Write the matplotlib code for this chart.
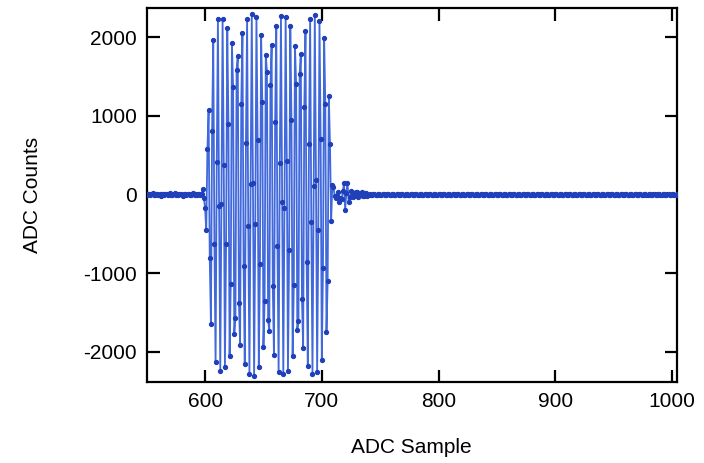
import numpy as np
import matplotlib.pyplot as plt

plt.rcParams['font.family'] = ['Liberation Sans', 'DejaVu Sans']
plt.rcParams['axes.unicode_minus'] = False

# ADC record, one value per sample, starting at sample 550
first_sample = 550

pre_trigger = [-10, 5, 12, -8, 3, 15, -5, -12, 8, 10,
               -3, 6, -15, 4, 11, -7, 2, 9, -11, 5,
               13, -4, -9, 7, 14, -6, 3, -10, 8, 12,
               -2, -13, 6, 10, -5, 4, 11, -8, -3, 9,
               15, -7, 2, -12, 8, 5, -9, 12, 75, -40]

burst = [-174, -455, 576, 1078, -814, -1645, 810, 1966, -636, -2136,
         410, 2232, -149, -2250, -115, 2237, 376, -2194, -632, 2120,
         899, -2061, -1141, 1927, 1364, -1769, -1571, 1585, 1757, -1380,
         -1918, 1155, 2054, -915, -2160, 662, 2238, -403, -2284, 133,
         2300, 150, -2310, -380, 2260, 700, -2190, -890, 2030, 1180,
         -1940, -1350, 1780, 1560, -1600, -1740, 1390, 1900, -1170, -2040,
         920, 2150, -660, -2260, 400, 2270, -100, -2290, -170, 2265,
         430, -2250, -700, 2140, 950, -2060, -1150, 1890, 1410, -1720,
         -1610, 1540, 1790, -1330, -1950, 1110, 2080, -860, -2180, 640,
         2240, -350, -2280, 110, 2290, 185, -2260, -450, 2210, 710,
         -2100, -930, 1990, 1150]

ringdown = [-1750, -1100, 1250, 640, -340, 115, 100, -20, -40, -25,
            30, -90, -40, -60, 40, 143, -197, 20, 150, -91,
            -30, 45, 30, -35, -25, 30, 28, -30, -22, 25,
            26, -22, -18, 20, 18, -16, -12]

noise_tail = [8, -6, -10, 9, 7, -5, -11, 6, 10, -4, -8, 7, 5, -9, -6, 11, 4, -7, -3, 8, 9, -10,
              -5, 6, 12, -3, -9, 5, 7, -11, -2, 10, 6, -8, -4, 9, 3, -12, -6, 7, 11, -2, -7, 4,
              10, -6, -9, 3, 8, -4, -10, 12, 5, -7, -3, 9, 6, -11, -5, 8, 2, -9, -6, 10, 7, -3,
              -12, 5, 9, -8, -2, 11, 4, -6, -10, 7, 3, -5, -9, 12, 6, -4, -8, 10, 2, -7, -11, 5,
              8, -3, -6, 11, 5, -9, -4, 7, 10, -2, -12, 6, 9, -5, -7, 3, 11, -8, -3, 6, 12, -10,
              -4, 9, 5, -11, -6, 8, 2, -7, -9, 12, 4, -3, -10, 6, 7, -5, -8, 11, 3, -6, -2, 9,
              10, -8, -5, 4, 12, -3, -11, 7, 6, -9, -2, 10, 5, -6, -12, 8, 3, -4, -7, 11, 9, -5,
              -3, 6, 11, -10, -4, 7, 2, -8, -12, 9, 5, -6, -3, 12, 8, -9, -5, 4, 10, -7, -2, 6,
              9, -11, -4, 5, 8, -6, -10, 3, 12, -2, -7, 10, 4, -8, -5, 11, 6, -12, -3, 7, 2, -9,
              -6, 10, 5, -4, -11, 8, 3, -7, -2, 12, 7, -10, -5, 6, 9, -3, -8, 4, 11, -6, -12, 7,
              5, -2, -9, 10, 6, -8, -4, 11, 3, -5, -10, 7, 12, -6, -3, 9, 4, -11, -7, 8, 2, -4,
              -10, 6, 8, -3, -12, 5, 10, -7, -2, 9, 4, -6, -11, 12, 3, -8, -5, 7, 10, -4, -9, 6]

counts = np.array(pre_trigger + burst + ringdown + noise_tail, dtype=float)
samples = np.arange(first_sample, first_sample + len(counts))

fig = plt.figure(figsize=(7.04, 4.63), dpi=100)
ax = fig.add_axes([0.2084, 0.1739, 0.7528, 0.8099])

ax.plot(samples, counts, color='#4169dc', lw=1.3, marker='o', ms=2.8,
        mfc='#1f40b8', mec='#1f40b8', zorder=3)

ax.set_xlim(550, 1004)
ax.set_ylim(-2392, 2380)
ax.set_xticks([600, 700, 800, 900, 1000])
ax.set_yticks([-2000, -1000, 0, 1000, 2000])

for s in ax.spines.values():
    s.set_linewidth(1.6)
ax.tick_params(direction='in', length=9, width=1.6, top=True, right=True,
               labelsize=15, pad=7)

ax.set_xlabel('ADC Sample', fontsize=15, labelpad=19)
ax.set_ylabel('ADC Counts', fontsize=15, labelpad=30)

fig.savefig('out.png', dpi=100)
